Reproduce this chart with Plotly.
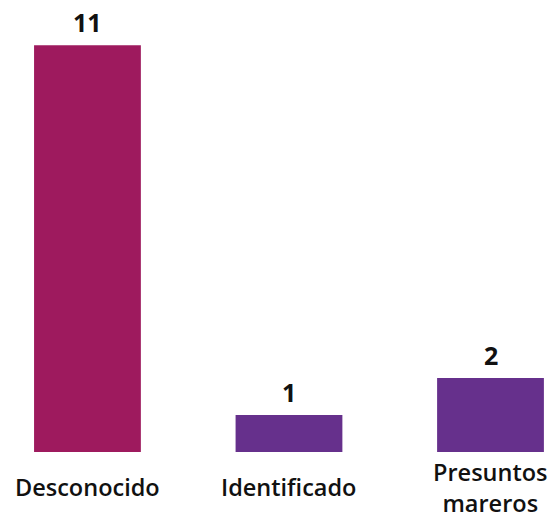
import plotly.graph_objects as go

categories = ["Desconocido", "Identificado", "Presuntos<br>mareros"]
values = [11, 1, 2]
colors = ["#9E1A5E", "#66308C", "#66308C"]

FONT = "Open Sans"

fig = go.Figure()
fig.add_trace(go.Bar(
    x=list(range(len(categories))),
    y=values,
    marker=dict(color=colors, line=dict(width=0)),
    width=0.53,
    hoverinfo="skip",
))

for i, v in enumerate(values):
    fig.add_annotation(
        x=i, xref="x", y=v, yref="y", yanchor="bottom", yshift=4,
        text=str(v), showarrow=False,
        font=dict(family=FONT, size=25, color="#111111", weight=700),
    )

for i, c in enumerate(categories):
    fig.add_annotation(
        x=i, xref="x", y=-0.078, yref="paper", yanchor="middle",
        text=c, showarrow=False, borderpad=0,
        font=dict(family=FONT, size=23.5, color="#111111", weight=600),
    )

fig.update_layout(
    width=557, height=518,
    margin=dict(l=0, r=0, t=0, b=66),
    plot_bgcolor="white", paper_bgcolor="white",
    showlegend=False,
    xaxis=dict(range=[-0.434, 2.33], visible=False),
    yaxis=dict(range=[0, 12.22], visible=False),
)

fig.write_html("out.html", config={"displayModeBar": False},
               post_script="document.body.style.margin='0';")
